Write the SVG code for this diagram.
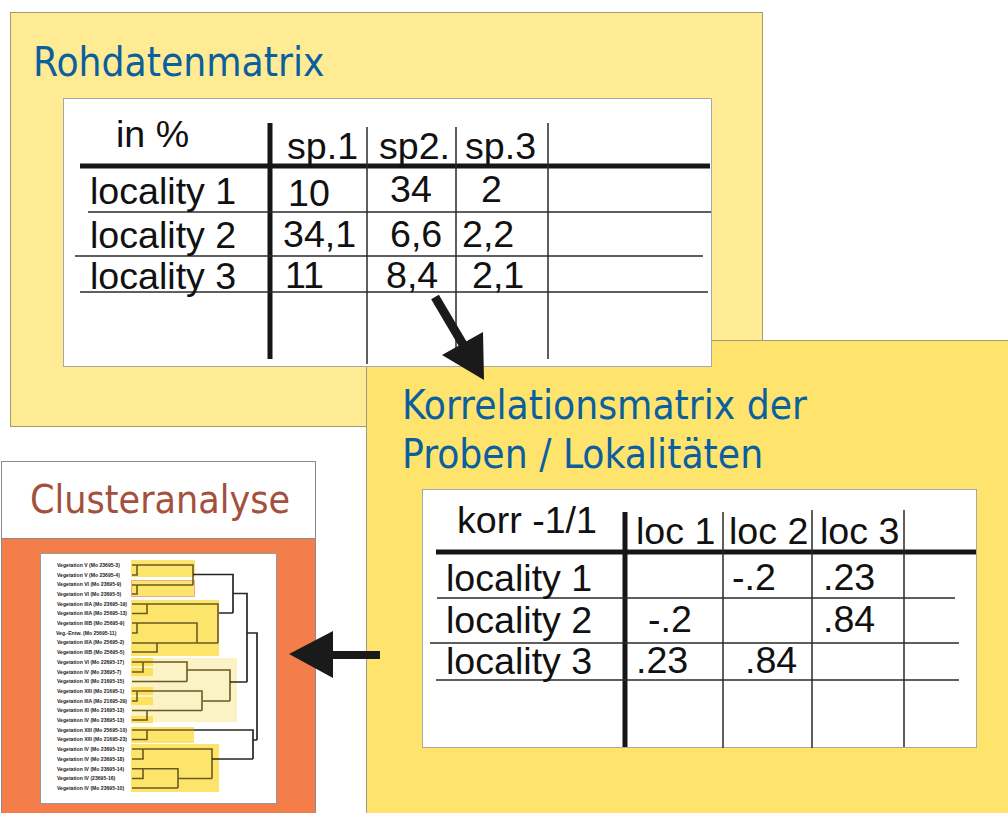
<svg xmlns="http://www.w3.org/2000/svg" width="1008" height="813" viewBox="0 0 1008 813">
  <defs>
    <style>
      .title { font-family: "DejaVu Sans Condensed", "DejaVu Sans", sans-serif; font-size: 40.3px; fill: #0b5f9f; }
      .ctitle { font-family: "DejaVu Sans Condensed", "DejaVu Sans", sans-serif; font-size: 39px; fill: #a3503d; }
      .cell { font-family: "Liberation Sans", Arial, sans-serif; font-size: 37.6px; fill: #111; }
      .thick { stroke: #161616; stroke-width: 5; fill: none; }
      .thin { stroke: #2a2a2a; stroke-width: 1.5; fill: none; }
      .lbl { font-family: "Liberation Sans", Arial, sans-serif; font-size: 5.1px; font-weight: bold; fill: #1a1a1a; }
      .inb { stroke: #6a5a20; stroke-width: 1.6; fill: none; }
      .outb { stroke: #262626; stroke-width: 1.7; fill: none; }
      .arrow { fill: #1a1a1a; }
    </style>
  </defs>

  <rect x="0" y="0" width="1008" height="813" fill="#ffffff"/>

  <!-- Raw data matrix panel -->
  <g id="rohdaten-panel">
    <rect x="10.5" y="12.5" width="752" height="414" fill="#feeb93" stroke="#a39a6c" stroke-width="1"/>
    <text class="title" x="33" y="76">Rohdatenmatrix</text>
  </g>

  <!-- Correlation matrix panel -->
  <g id="korrelation-panel">
    <rect x="366.5" y="340.5" width="645" height="480" fill="#fee46c" stroke="#a09a80" stroke-width="1"/>
    <text class="title" x="402" y="419">Korrelationsmatrix der</text>
    <text class="title" x="402" y="468">Proben / Lokalitäten</text>
  </g>

  <!-- Raw data table -->
  <g id="rohdaten-table">
    <rect x="63.5" y="98.5" width="648" height="268" fill="#ffffff" stroke="#a8a8a8" stroke-width="1"/>
    <line class="thick" x1="80" y1="166" x2="710" y2="166"/>
    <line class="thick" x1="270" y1="123" x2="270" y2="359"/>
    <line class="thin" x1="367" y1="127" x2="367" y2="364"/>
    <line class="thin" x1="456" y1="127" x2="456" y2="358"/>
    <line class="thin" x1="548" y1="123" x2="548" y2="359"/>
    <line class="thin" x1="88" y1="212" x2="711" y2="212"/>
    <line class="thin" x1="75" y1="256" x2="703" y2="256"/>
    <line class="thin" x1="80" y1="292" x2="708" y2="292"/>
    <text class="cell" x="116" y="147">in %</text>
    <text class="cell" x="287" y="159">sp.1</text>
    <text class="cell" x="379" y="159">sp2.</text>
    <text class="cell" x="465" y="159">sp.3</text>
    <text class="cell" x="90" y="204">locality 1</text>
    <text class="cell" x="288" y="206">10</text>
    <text class="cell" x="390" y="202">34</text>
    <text class="cell" x="481" y="202">2</text>
    <text class="cell" x="90" y="248">locality 2</text>
    <text class="cell" x="283" y="247">34,1</text>
    <text class="cell" x="390" y="247">6,6</text>
    <text class="cell" x="462" y="247">2,2</text>
    <text class="cell" x="90" y="289">locality 3</text>
    <text class="cell" x="285" y="288">11</text>
    <text class="cell" x="386" y="288">8,4</text>
    <text class="cell" x="472" y="288">2,1</text>
  </g>

  <!-- Correlation table -->
  <g id="korrelation-table">
    <rect x="422.5" y="489.5" width="554" height="258" fill="#ffffff" stroke="#a8a8a8" stroke-width="1"/>
    <line class="thick" x1="436" y1="552" x2="976" y2="552"/>
    <line class="thick" x1="625" y1="512" x2="625" y2="747"/>
    <line class="thin" x1="723" y1="512" x2="723" y2="748"/>
    <line class="thin" x1="812" y1="510" x2="812" y2="748"/>
    <line class="thin" x1="904" y1="510" x2="904" y2="747"/>
    <line class="thin" x1="437" y1="598" x2="955" y2="598"/>
    <line class="thin" x1="430" y1="643" x2="959" y2="643"/>
    <line class="thin" x1="436" y1="680" x2="959" y2="680"/>
    <text class="cell" x="457" y="533">korr -1/1</text>
    <text class="cell" x="636" y="544">loc 1</text>
    <text class="cell" x="729" y="544">loc 2</text>
    <text class="cell" x="820" y="544">loc 3</text>
    <text class="cell" x="446" y="591">locality 1</text>
    <text class="cell" x="732" y="590">-.2</text>
    <text class="cell" x="823" y="590">.23</text>
    <text class="cell" x="446" y="633">locality 2</text>
    <text class="cell" x="648" y="632">-.2</text>
    <text class="cell" x="823" y="632">.84</text>
    <text class="cell" x="446" y="674">locality 3</text>
    <text class="cell" x="636" y="673">.23</text>
    <text class="cell" x="745" y="673">.84</text>
  </g>

  <!-- Cluster analysis panel -->
  <g id="cluster-panel">
    <rect x="1.5" y="461.5" width="314" height="360" fill="#f47e4a" stroke="#8a8a8a" stroke-width="1"/>
    <rect x="1.5" y="461.5" width="314" height="77" fill="#ffffff" stroke="#8a8a8a" stroke-width="1"/>
    <text class="ctitle" x="30" y="513">Clusteranalyse</text>
    <rect x="40.5" y="553.5" width="236" height="250" fill="#ffffff" stroke="#9a9a9a" stroke-width="1"/>

    <!-- group highlights -->
    <g id="dendro-highlights">
      <rect x="131" y="560" width="64" height="17" fill="#fde46b"/>
      <rect x="131.5" y="580.5" width="63" height="16" fill="#fde46b" stroke="#f2a88e" stroke-width="1"/>
      <rect x="131" y="600" width="88" height="56" fill="#fde46b"/>
      <rect x="131" y="658" width="106" height="64" fill="#fbf2c6"/>
      <rect x="131" y="658" width="22" height="8" fill="#fde15a"/>
      <rect x="131" y="668" width="22" height="8" fill="#fde15a"/>
      <rect x="131" y="687" width="22" height="8" fill="#fde15a"/>
      <rect x="131" y="697" width="22" height="8" fill="#fde15a"/>
      <rect x="131" y="716" width="22" height="7" fill="#fde15a"/>
      <rect x="131" y="727" width="63" height="16" fill="#fde46b"/>
      <rect x="131" y="744" width="88" height="48" fill="#fde46b"/>
    </g>

    <!-- dendrogram branches inside the groups -->
    <g id="dendro-inner">
      <path class="inb" d="M132 565H193V585M132 585H193M132 575H137V565M132 594H137V585"/>
      <path class="inb" d="M132 604H218V643M132 613.5H147V604M132 623H197V643M132 633H137V623M132 643H218M132 652H157V643"/>
      <path class="inb" d="M132 662H187V681.5M132 681.5H187M132 672H143V662M187 670H230V701M203 701H230M132 691H202V710.5M132 710.5H202M132 701H137V691M132 720H147V710.5"/>
      <path class="inb" d="M132 730H194M132 739.5H147V730"/>
      <path class="inb" d="M132 749H212V778.5M132 759H143V749M132 768.7H178V788M132 788H178M132 778.5H143V768.7M178 778.5H212"/>
    </g>

    <!-- dendrogram branches between the groups -->
    <g id="dendro-outer">
      <path class="outb" d="M193 574.5H233V613M219 613H233M233 593.5H247V682M230 682H247M247 633H257V740M194 730H253V759M212 759H253M253 740H257"/>
    </g>

    <!-- sample labels -->
    <g id="dendro-labels">
      <text class="lbl" x="57" y="566.8">Vegetation V (Mo 23695-3)</text>
      <text class="lbl" x="57" y="576.5">Vegetation V (Mo 23695-4)</text>
      <text class="lbl" x="57" y="586.2">Vegetation VI (Mo 23695-9)</text>
      <text class="lbl" x="57" y="595.9">Vegetation VI (Mo 23695-5)</text>
      <text class="lbl" x="57" y="605.6">Vegetation IIIA (Mo 23695-19)</text>
      <text class="lbl" x="57" y="615.3">Vegetation IIIA (Mo 25695-13)</text>
      <text class="lbl" x="57" y="625">Vegetation IIIB (Mo 25695-9)</text>
      <text class="lbl" x="56" y="634.7">Veg.-Entw. (Mo 25695-11)</text>
      <text class="lbl" x="57" y="644.4">Vegetation IIIA (Mo 25695-2)</text>
      <text class="lbl" x="57" y="654.1">Vegetation IIIB (Mo 25695-5)</text>
      <text class="lbl" x="57" y="663.8">Vegetation VI (Mo 22695-17)</text>
      <text class="lbl" x="57" y="673.5">Vegetation IV (Mo 23695-7)</text>
      <text class="lbl" x="57" y="683.2">Vegetation XI (Mo 21695-15)</text>
      <text class="lbl" x="57" y="692.9">Vegetation XIII (Mo 21695-1)</text>
      <text class="lbl" x="57" y="702.6">Vegetation IIIA (Mo 21695-29)</text>
      <text class="lbl" x="57" y="712.3">Vegetation XI (Mo 21695-13)</text>
      <text class="lbl" x="57" y="722">Vegetation IV (Mo 23695-13)</text>
      <text class="lbl" x="57" y="731.7">Vegetation XIII (Mo 25695-10)</text>
      <text class="lbl" x="57" y="741.4">Vegetation XIII (Mo 21695-23)</text>
      <text class="lbl" x="57" y="751.1">Vegetation IV (Mo 23695-15)</text>
      <text class="lbl" x="57" y="760.8">Vegetation IV (Mo 23695-18)</text>
      <text class="lbl" x="57" y="770.5">Vegetation IV (Mo 23695-14)</text>
      <text class="lbl" x="57" y="780.2">Vegetation IV (23695-16)</text>
      <text class="lbl" x="57" y="789.9">Vegetation IV (Mo 23695-10)</text>
    </g>
  </g>

  <!-- connectors -->
  <g id="connectors">
    <line x1="435" y1="297" x2="464" y2="346" stroke="#1a1a1a" stroke-width="9"/>
    <polygon class="arrow" points="484,380 442,355 483,332"/>
    <line x1="330" y1="655" x2="380" y2="655" stroke="#1a1a1a" stroke-width="8"/>
    <polygon class="arrow" points="289,654 333,631 333,678"/>
  </g>
</svg>
